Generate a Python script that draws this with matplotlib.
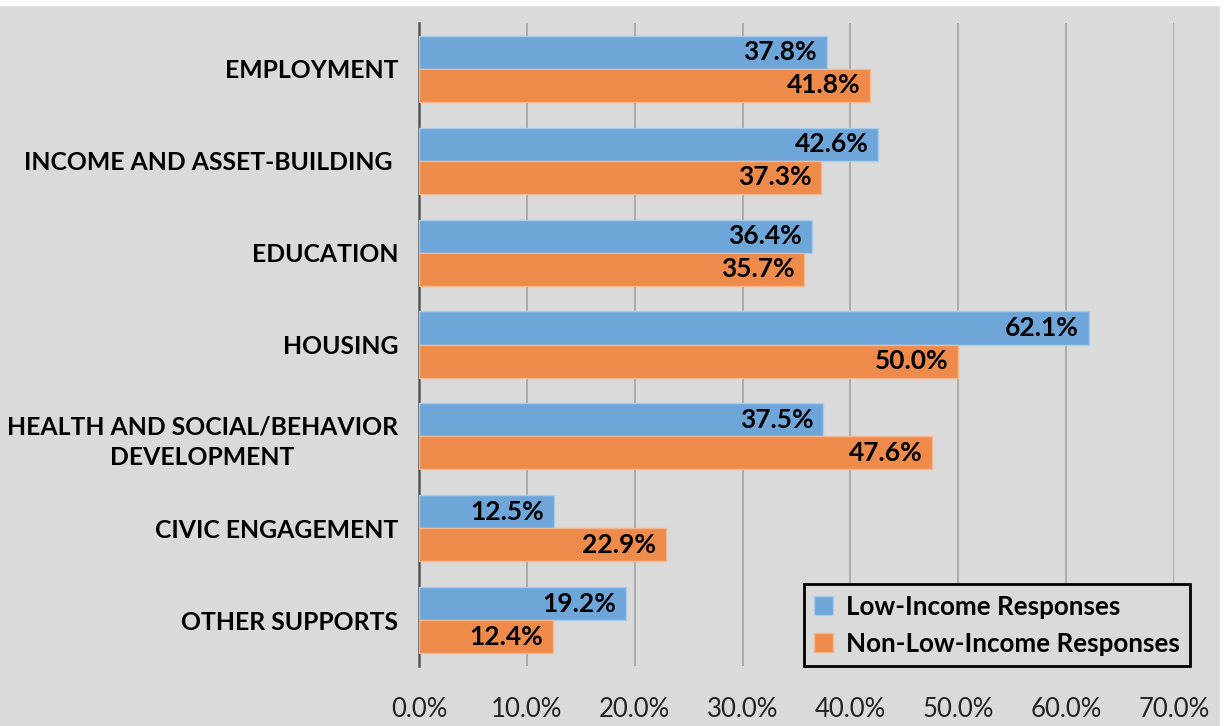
import numpy as np
import matplotlib.pyplot as plt
from matplotlib.patches import Rectangle
from matplotlib.ticker import FuncFormatter

categories = ['EMPLOYMENT', 'INCOME AND ASSET-BUILDING ', 'EDUCATION', 'HOUSING',
              'HEALTH AND SOCIAL/BEHAVIOR\nDEVELOPMENT', 'CIVIC ENGAGEMENT', 'OTHER SUPPORTS']
low_income = [37.8, 42.6, 36.4, 62.1, 37.5, 12.5, 19.2]
non_low_income = [41.8, 37.3, 35.7, 50.0, 47.6, 22.9, 12.4]
series_names = ['Low-Income Responses', 'Non-Low-Income Responses']

plt.rcParams['font.family'] = ['Lato', 'DejaVu Sans']
bg = '#dadada'
blue = '#6ea6da'
orange = '#ee8b4a'

fig = plt.figure(figsize=(12.25, 7.26), dpi=100, facecolor=bg)
# thin white border along top and right edge, as in the screenshot
fig.add_artist(Rectangle((0, 1 - 5 / 726), 1, 5 / 726, transform=fig.transFigure,
                         color='white', zorder=0))
fig.add_artist(Rectangle((1 - 5 / 1225, 0), 5 / 1225, 1, transform=fig.transFigure,
                         color='white', zorder=0))

ax = fig.add_axes([0.3420, 0.0826, 0.6163, 0.8857])
ax.set_facecolor(bg)

y = np.arange(len(categories))
h = 0.36
b1 = ax.barh(y - h / 2, low_income, height=h, color=blue, edgecolor='#a9cbeb',
             linewidth=1, label=series_names[0], zorder=3)
b2 = ax.barh(y + h / 2, non_low_income, height=h, color=orange, edgecolor='#f4b68c',
             linewidth=1, label=series_names[1], zorder=3)

for bars, vals in ((b1, low_income), (b2, non_low_income)):
    for bar, v in zip(bars, vals):
        ax.text(v - 0.9, bar.get_y() + bar.get_height() / 2, f'{v:.1f}%',
                ha='right', va='center', fontsize=19, fontweight='bold', zorder=4)

ax.set_xlim(0, 70)
ax.set_ylim(len(categories) - 0.5, -0.5)
ax.set_xticks(np.arange(0, 71, 10))
ax.xaxis.set_major_formatter(FuncFormatter(lambda v, p: f'{v:.1f}%'))
ax.set_yticks(y)
ax.set_yticklabels(categories, fontsize=17.8, fontweight='bold', multialignment='center',
                   linespacing=1.4)
ax.tick_params(axis='y', length=0, pad=15)
ax.tick_params(axis='x', length=0, pad=22, labelsize=18.5, labelcolor='#222222')
ax.grid(axis='x', color='#a6a6a6', linewidth=1.3, zorder=0)
for s in ('top', 'right', 'bottom'):
    ax.spines[s].set_visible(False)
ax.spines['left'].set_color('#555555')
ax.spines['left'].set_linewidth(1.8)

leg = ax.legend(loc='lower right', bbox_to_anchor=(1.021, 0.0), borderaxespad=0,
                frameon=True, fancybox=False, handlelength=0.7, handleheight=0.7,
                handletextpad=0.5, borderpad=0.4, labelspacing=0.5,
                prop={'weight': 'bold', 'size': 18.7})
leg.get_frame().set_edgecolor('black')
leg.get_frame().set_linewidth(2)
leg.get_frame().set_facecolor(bg)
leg.get_frame().set_alpha(1)

fig.savefig('out.png', dpi=100, facecolor=bg)
